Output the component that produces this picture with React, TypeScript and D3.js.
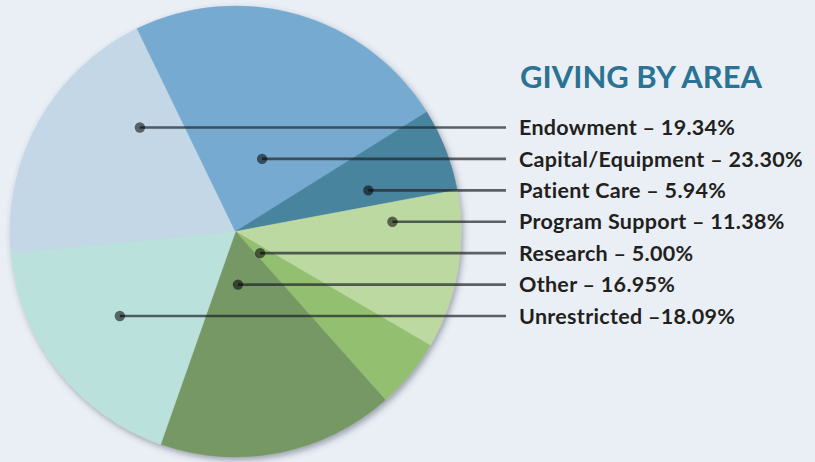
import React from "react";
import * as d3 from "d3";

const categories = ["Endowment", "Capital/Equipment", "Patient Care", "Program Support", "Research", "Other", "Unrestricted"];
const values = [19.34, 23.30, 5.94, 11.38, 5.00, 16.95, 18.09];
const labels = ["Endowment – 19.34%", "Capital/Equipment – 23.30%", "Patient Care – 5.94%", "Program Support – 11.38%", "Research – 5.00%", "Other – 16.95%", "Unrestricted –18.09%"];
const colors = ["#c3d7e6", "#77aad0", "#4a849e", "#bcd9a1", "#93bf6f", "#769865", "#bae1db"];
const title = "GIVING BY AREA";

const W = 815, H = 462;
const cx = 235.5, cy = 231.5, R = 225.5;
// dot horizontal offset (fraction of radius) for each leader line
const dotFrac = [-0.424, 0.118, 0.589, 0.696, 0.109, 0.011, -0.513];

export default function App() {
  const startDeg = -95.5;
  const pie = d3.pie<number>().sort(null).value(d => d)
    .startAngle(startDeg * Math.PI / 180)
    .endAngle(startDeg * Math.PI / 180 + 2 * Math.PI);
  const arcs = pie(values);
  const arc = d3.arc<d3.PieArcDatum<number>>().innerRadius(0).outerRadius(R);
  const rowY = d3.scalePoint<number>().domain(d3.range(categories.length)).range([127.5, 316]);
  const lineEnd = 506;
  const textX = 519;

  return (
    <svg width={W} height={H} style={{ position: "absolute", left: 0, top: 0, background: "#eaeff6" }}>
      <defs>
        <filter id="sh" x="-10%" y="-10%" width="125%" height="125%">
          <feDropShadow dx="2" dy="3" stdDeviation="3" floodColor="#3a3f55" floodOpacity="0.45" />
        </filter>
      </defs>
      <rect width={W} height={H} fill="#eaeff6" />
      <g transform={`translate(${cx},${cy})`} filter="url(#sh)">
        {arcs.map((a, i) => (
          <path key={i} d={arc(a) || ""} fill={colors[i]} stroke={colors[i]} strokeWidth={0.5} />
        ))}
      </g>
      {categories.map((c, i) => {
        const y = rowY(i)!;
        const x = cx + dotFrac[i] * R;
        return (
          <g key={c}>
            <line x1={x} x2={lineEnd} y1={y} y2={y} stroke="#1e2428" strokeOpacity={0.7} strokeWidth={2.6} />
            <circle cx={x} cy={y} r={5.2} fill="#000" fillOpacity={0.55} />
            <text x={textX} y={y} dy="0.36em" fontFamily="Lato, sans-serif" fontWeight={700} fontSize={21.5} letterSpacing={0.3} fill="#231f20">{labels[i]}</text>
          </g>
        );
      })}
      <text x={520} y={88} fontFamily="Lato, sans-serif" fontWeight={700} fontSize={31} fill="#2a7392">{title}</text>
    </svg>
  );
}
